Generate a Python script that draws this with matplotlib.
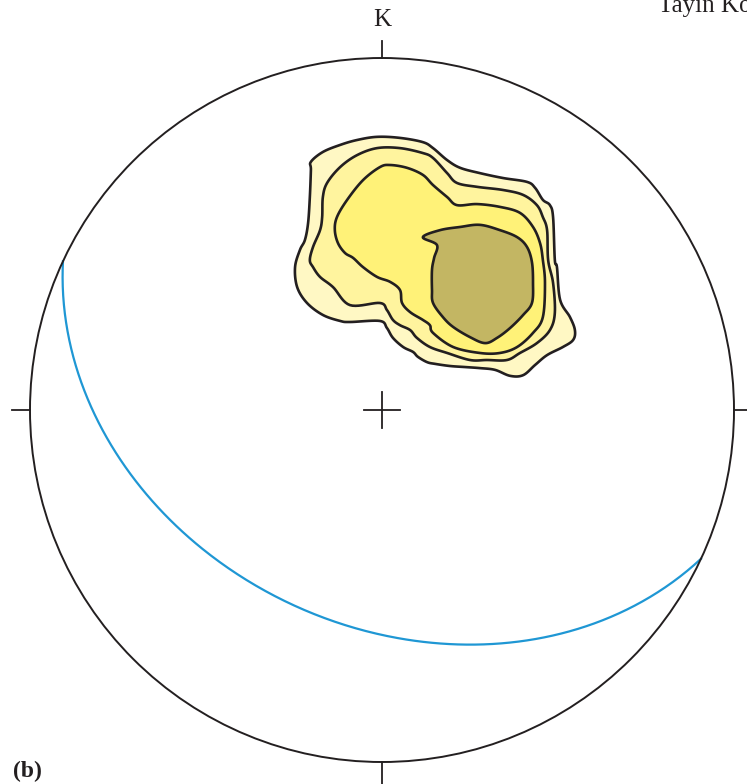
import numpy as np
import matplotlib
matplotlib.use("Agg")
import matplotlib.pyplot as plt
from matplotlib.patches import Circle, Polygon

# Plane shown as a great circle (right-hand rule: strike, dip)
plane_strike = 115.0
plane_dip = 39.0

# Density contours on the lower-hemisphere equal-area net (east, north), unit radius
contour_1 = [
    (-0.202, 0.705), (-0.168, 0.733), (-0.119, 0.753), (-0.071, 0.767), (-0.014, 0.776),
    (0.051, 0.773), (0.116, 0.761), (0.145, 0.744), (0.185, 0.710), (0.222, 0.688),
    (0.278, 0.673), (0.344, 0.659), (0.412, 0.648), (0.435, 0.631), (0.457, 0.597),
    (0.477, 0.582), (0.486, 0.548), (0.491, 0.426), (0.497, 0.406), (0.506, 0.313),
    (0.534, 0.264), (0.548, 0.227), (0.543, 0.199), (0.514, 0.179), (0.469, 0.156),
    (0.435, 0.128), (0.401, 0.099), (0.364, 0.097), (0.321, 0.114), (0.278, 0.119),
    (0.236, 0.122), (0.193, 0.125), (0.151, 0.131), (0.128, 0.136), (0.102, 0.151),
    (0.088, 0.165), (0.060, 0.179), (0.031, 0.205), (0.014, 0.233), (-0.006, 0.253),
    (-0.091, 0.250), (-0.119, 0.253), (-0.168, 0.270), (-0.213, 0.304), (-0.241, 0.349),
    (-0.247, 0.406), (-0.233, 0.455), (-0.219, 0.483), (-0.210, 0.531), (-0.205, 0.605),
    (-0.202, 0.682),
]
contour_2 = [
    (-0.156, 0.645), (-0.119, 0.690), (-0.071, 0.724), (-0.014, 0.744), (0.051, 0.744),
    (0.116, 0.730), (0.145, 0.716), (0.185, 0.673), (0.213, 0.645), (0.270, 0.634),
    (0.344, 0.625), (0.401, 0.611), (0.440, 0.582), (0.457, 0.548), (0.469, 0.511),
    (0.472, 0.426), (0.486, 0.361), (0.491, 0.276), (0.477, 0.227), (0.440, 0.190),
    (0.392, 0.162), (0.355, 0.142), (0.298, 0.142), (0.250, 0.142), (0.185, 0.162),
    (0.136, 0.179), (0.099, 0.205), (0.080, 0.227), (0.051, 0.241), (0.031, 0.256),
    (0.014, 0.284), (-0.006, 0.304), (-0.091, 0.298), (-0.139, 0.349), (-0.176, 0.378),
    (-0.196, 0.406), (-0.205, 0.426), (-0.196, 0.463), (-0.176, 0.511), (-0.170, 0.548),
    (-0.168, 0.605),
]
contour_3 = [
    (-0.054, 0.653), (-0.006, 0.690), (0.023, 0.696), (0.071, 0.688), (0.116, 0.668),
    (0.145, 0.639), (0.185, 0.605), (0.213, 0.582), (0.270, 0.585), (0.335, 0.577),
    (0.392, 0.560), (0.429, 0.520), (0.449, 0.474), (0.457, 0.426), (0.463, 0.361),
    (0.457, 0.264), (0.429, 0.219), (0.384, 0.179), (0.335, 0.162), (0.278, 0.162),
    (0.202, 0.179), (0.145, 0.219), (0.136, 0.241), (0.116, 0.256), (0.080, 0.278),
    (0.057, 0.304), (0.051, 0.341), (0.023, 0.364), (-0.014, 0.378), (-0.054, 0.406),
    (-0.082, 0.432), (-0.105, 0.446), (-0.125, 0.474), (-0.134, 0.511), (-0.128, 0.548),
    (-0.099, 0.597),
]
contour_4 = [
    (0.116, 0.491), (0.165, 0.511), (0.222, 0.520), (0.278, 0.526), (0.335, 0.511),
    (0.384, 0.491), (0.412, 0.463), (0.426, 0.420), (0.429, 0.361), (0.426, 0.304),
    (0.401, 0.270), (0.364, 0.233), (0.327, 0.205), (0.293, 0.190), (0.250, 0.207),
    (0.202, 0.236), (0.173, 0.264), (0.145, 0.304), (0.142, 0.341), (0.142, 0.398),
    (0.148, 0.432), (0.156, 0.469),
]
contours = [contour_1, contour_2, contour_3, contour_4]
contour_colors = ["#fff8c4", "#fff49e", "#fff278", "#c3b663"]


def smooth_closed(points, n=10):
    """Closed Catmull-Rom spline through the digitised vertices."""
    p = np.asarray(points, dtype=float)
    p0 = np.roll(p, 1, axis=0)
    p1 = p
    p2 = np.roll(p, -1, axis=0)
    p3 = np.roll(p, -2, axis=0)
    t = np.linspace(0, 1, n, endpoint=False)[:, None, None]
    seg = 0.5 * (2 * p1 + (-p0 + p2) * t
                 + (2 * p0 - 5 * p1 + 4 * p2 - p3) * t ** 2
                 + (-p0 + 3 * p1 - 3 * p2 + p3) * t ** 3)
    return seg.transpose(1, 0, 2).reshape(-1, 2)


def equal_area(trend_deg, plunge_deg):
    tr = np.radians(trend_deg)
    pl = np.radians(plunge_deg)
    r = np.sqrt(2.0) * np.sin(np.pi / 4 - pl / 2)
    return r * np.sin(tr), r * np.cos(tr)


def great_circle(strike, dip, n=400):
    s = np.radians(strike)
    d = np.radians(dip)
    dd = s + np.pi / 2
    sv = np.array([np.sin(s), np.cos(s), 0.0])
    dv = np.array([np.sin(dd) * np.cos(d), np.cos(dd) * np.cos(d), np.sin(d)])
    th = np.linspace(0, np.pi, n)
    v = np.outer(np.cos(th), sv) + np.outer(np.sin(th), dv)
    trend = np.degrees(np.arctan2(v[:, 0], v[:, 1]))
    plunge = np.degrees(np.arcsin(np.clip(v[:, 2], -1, 1)))
    return equal_area(trend, plunge)


fig = plt.figure(figsize=(7.47, 7.84), dpi=100)
ax = fig.add_axes([0, 0, 1, 1])
ax.set_xlim(-382 / 352, 365 / 352)
ax.set_ylim(-374 / 352, 410 / 352)
ax.set_aspect("equal")
ax.axis("off")

ink = "#231f20"

# density contours, lowest level first
for i, (pts, col) in enumerate(zip(contours, contour_colors)):
    xy = smooth_closed(pts)
    ax.add_patch(Polygon(xy, closed=True, facecolor=col, edgecolor=ink,
                         lw=1.9, joinstyle="round", zorder=2 + i))

# great circle
gx, gy = great_circle(plane_strike, plane_dip)
ax.plot(gx, gy, color="#1f97d4", lw=1.6, zorder=7)

# primitive circle
ax.add_patch(Circle((0, 0), 1.0, fill=False, edgecolor=ink, lw=1.4, zorder=8))

# cardinal ticks and centre cross
tk = dict(color=ink, lw=1.3, zorder=8)
ax.plot([0, 0], [1.0, 1.048], **tk)
ax.plot([0, 0], [-1.0, -1.07], **tk)
ax.plot([-1.0, -1.05], [0, 0], **tk)
ax.plot([1.0, 1.05], [0, 0], **tk)
ax.plot([-0.05, 0.05], [0, 0], **tk)
ax.plot([0, 0], [-0.05, 0.05], **tk)

serif = ["Liberation Serif", "DejaVu Serif"]
ax.text(0, 1.091, "K", ha="center", va="baseline", fontsize=18,
        family=serif, color=ink)
ax.text(-1.048, -1.043, "(b)", ha="left", va="baseline", fontsize=17,
        family=serif, fontweight="bold", color=ink)
ax.text(0.784, 1.131, "Tayin Ko", ha="left", va="baseline", fontsize=18,
        family=serif, color=ink, clip_on=False)

fig.savefig("out.png", dpi=100)
